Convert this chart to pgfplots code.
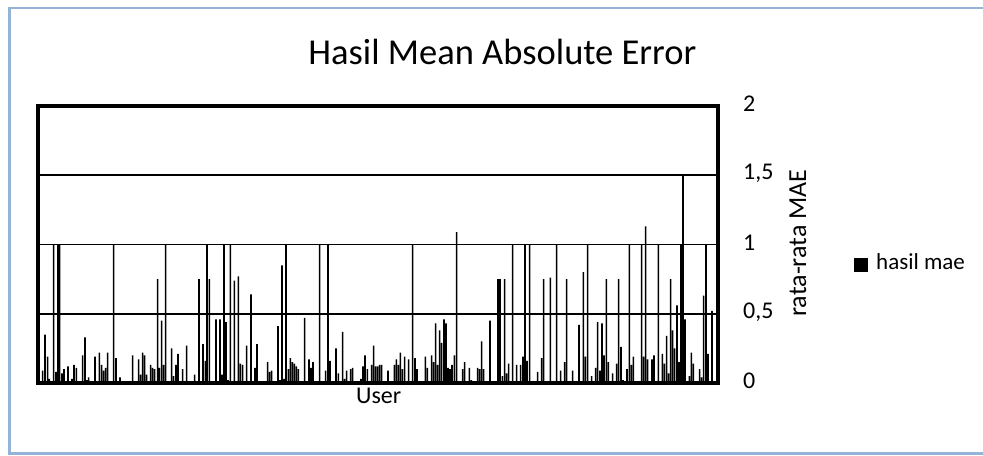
\documentclass[border=0pt]{standalone}
\usepackage{fontspec}
\setmainfont{Carlito}
\usepackage{pgfplots}
\pgfplotsset{compat=1.18}
\definecolor{frameblue}{RGB}{149,179,215}
\begin{document}
\begin{tikzpicture}
\useasboundingbox (0,0) rectangle (983bp,456bp);
\draw[frameblue, line width=2.5bp] (995bp,448bp) -- (9.5bp,448bp) -- (9.5bp,2.5bp) -- (995bp,2.5bp);
\begin{axis}[
  at={(38bp,73bp)}, anchor=south west,
  scale only axis, width=680bp, height=277bp,
  xmin=0, xmax=680, ymin=0, ymax=2, enlargelimits=false,
  xtick=\empty, ytick={0,0.5,1,1.5,2},
  yticklabel pos=right,
  major tick length=0pt,
  ymajorgrids, grid style={black, line width=1.7bp},
  axis line style={black, line width=3.6bp},
  /pgf/number format/use comma,
  /pgf/number format/assume math mode=true,
  tick label style={font=\fontsize{24bp}{28bp}\selectfont},
  yticklabel style={anchor=west, inner sep=0pt, xshift=25bp, yshift=2bp},
  title={Hasil Mean Absolute Error},
  every axis title/.style={at={(axis description cs:0.683,1.1516)}, anchor=base, font=\fontsize{36.5bp}{40bp}\selectfont},
  xlabel={User},
  every axis x label/.style={at={(axis description cs:0.501,-0.0722)}, anchor=base, font=\fontsize{24bp}{28bp}\selectfont},
  ylabel={rata-rata MAE},
  every axis y label/.style={at={(axis description cs:1.1176,0.505)}, anchor=center, rotate=90, font=\fontsize{26bp}{30bp}\selectfont},
  legend style={at={(axis description cs:1.2,0.435)}, anchor=west, draw=none, fill=none, font=\fontsize{23bp}{27bp}\selectfont, inner sep=0pt,
    /tikz/every odd column/.append style={column sep=6bp}},
  legend image code/.code={\fill[black] (0bp,-9bp) rectangle (14bp,5bp);},
]
\addplot[ybar, bar width=1.55, bar shift=0pt, fill=black, draw=none] coordinates {
(4.7,0.09)(7.0,0.35)(9.7,0.19)(11.3,0.03)(15.7,1)(18.0,0.08)(20.0,1)(21.7,1)(24.0,0.07)(26.0,0.10)
(30.0,0.12)(34.0,0.03)(36.0,0.13)(38.3,0.11)(44.7,0.20)(47.0,0.33)(49.0,0.02)(50.7,0.04)(57.0,0.19)(61.3,0.22)
(63.7,0.13)(65.7,0.09)(67.7,0.11)(69.7,0.22)(75.7,1)(78.0,0.18)(82.0,0.04)(94.7,0.20)(100.7,0.17)(102.7,0.06)
(104.7,0.22)(106.7,0.20)(108.7,0.06)(112.7,0.13)(114.7,0.11)(116.7,0.10)(119.7,0.75)(121.3,0.11)(123.7,0.45)(125.7,0.13)
(127.7,1)(131.7,0.01)(133.7,0.25)(135.7,0.05)(138.0,0.13)(140.0,0.21)(144.7,0.10)(148.7,0.27)(156.7,0.06)(161.0,0.75)
(165.0,0.28)(167.3,0.16)
(169.0,1)(171.3,0.75)(178.0,0.46)(182.0,0.46)(184.0,0.06)(186.0,1)(188.0,0.44)(190.0,0.02)(192.3,1)(196.3,0.74)
(200.3,0.77)(202.3,0.14)(204.7,0.13)(208.7,0.27)(213.0,0.64)(217.0,0.11)(219.0,0.28)(229.7,0.15)(231.7,0.08)(233.7,0.09)
(240.0,0.41)(242.0,0.02)(244.0,0.85)(246.0,0.03)(248.0,1)(250.3,0.10)(252.3,0.18)(254.3,0.15)(256.3,0.14)(258.3,0.12)
(260.3,0.10)(266.7,0.47)(271.0,0.17)(273.0,0.11)(275.0,0.15)(281.7,1)(287.7,0.09)(290.0,1)(292.0,0.16)(298.0,0.25)
(300.3,0.07)(304.7,0.37)(306.7,0.03)(308.7,0.09)(312.7,0.10)(314.7,0.11)(323.0,0.03)(325.0,0.12)(327.0,0.20)(329.3,0.10)
(333.7,0.13)(335.7,0.27)(337.7,0.12)
(339.7,0.12)(341.7,0.13)(343.7,0.13)(350.0,0.09)(356.3,0.13)(358.3,0.17)(360.3,0.13)(362.3,0.22)(364.3,0.10)(366.7,0.19)
(370.7,0.17)(374.7,1)(377.0,0.18)(379.0,0.10)(387.3,0.19)(389.3,0.11)(393.7,0.20)(395.7,0.15)(397.7,0.43)(399.7,0.13)
(401.7,0.38)(403.7,0.29)(406.0,0.46)(408.0,0.43)(410.0,0.11)(412.0,0.10)(414.0,0.13)(416.3,0.20)(418.7,1.09)(424.7,0.10)
(426.7,0.15)(431.3,0.11)(433.3,0.02)(439.7,0.11)(441.7,0.10)(443.7,0.30)(445.7,0.10)(452.0,0.45)(460.0,0.75)(462.0,0.75)
(464.3,0.05)(466.7,0.75)(468.7,0.07)(470.7,0.14)(474.7,1)(478.7,0.13)(482.7,0.13)(485.0,0.19)(487.0,1)(489.0,0.16)
(491.7,1)(493.7,0.01)(499.7,0.08)(503.7,0.18)(505.7,0.75)
(512.3,0.76)(514.7,0.01)(518.7,1)(522.7,0.09)(526.7,0.15)(528.7,0.75)(534.7,0.09)(541.0,0.42)(545.3,0.80)(547.3,0.19)
(549.7,1)(553.7,0.05)(557.7,0.11)(559.7,0.44)(562.0,0.09)(564.0,0.43)(566.0,0.20)(568.3,0.75)(570.3,0.15)(574.7,0.07)
(578.7,0.14)(580.7,0.75)(583.0,0.26)(585.0,0.02)(589.0,0.10)(591.3,1)(593.3,0.13)(595.3,0.19)(603.7,1)(605.7,0.19)
(607.7,1.13)(609.7,0.17)(614.0,0.17)(616.0,0.20)(620.3,1)(624.3,0.21)(626.3,0.14)(628.7,0.34)(630.7,0.07)(632.7,0.75)
(634.7,0.38)(636.7,0.25)(639.0,0.56)(641.0,0.15)(643.0,1)(645.0,1.5)(647.0,0.46)(651.3,0.05)(653.3,0.22)(655.3,0.14)
(661.7,0.10)(663.7,0.04)(665.7,0.63)(668.0,1)(670.0,0.21)(674.0,0.52)
};
\addlegendentry{hasil mae}
\end{axis}
\end{tikzpicture}
\end{document}
